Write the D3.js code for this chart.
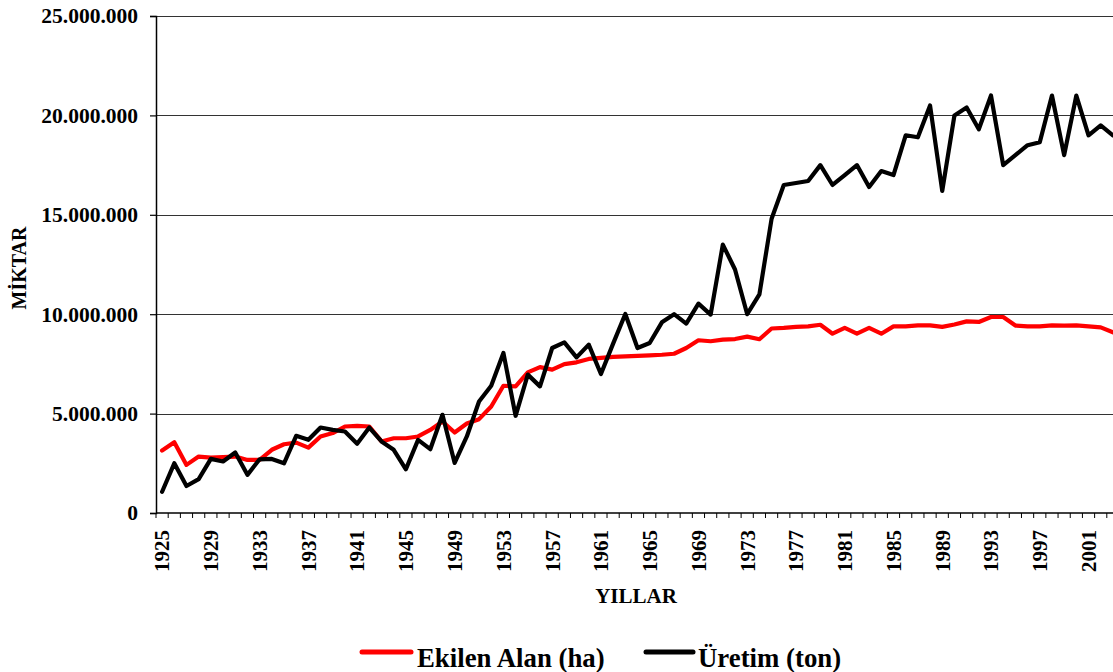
<!DOCTYPE html>
<html>
<head>
<meta charset="utf-8">
<script src="https://cdn.jsdelivr.net/npm/d3@7"></script>
<style>
  html, body { margin: 0; padding: 0; background: #fff; }
  svg { display: block; }
  text { font-family: "Liberation Serif", "Times New Roman", serif; font-weight: bold; fill: #000; }
</style>
</head>
<body>
<svg id="chart" width="1113" height="672"></svg>
<script>
const years = d3.range(1925, 2004);
const ekilenAlan = [
  3140000, 3560000, 2420000, 2840000, 2790000, 2810000, 2840000, 2670000, 2670000, 3180000,
  3460000, 3540000, 3290000, 3850000, 4020000, 4350000, 4380000, 4350000, 3600000, 3760000,
  3760000, 3850000, 4180000, 4600000, 4050000, 4500000, 4720000, 5360000, 6400000, 6370000,
  7070000, 7340000, 7210000, 7490000, 7580000, 7750000, 7800000, 7850000, 7880000, 7900000,
  7930000, 7960000, 8010000, 8300000, 8690000, 8640000, 8720000, 8750000, 8870000, 8740000,
  9280000, 9310000, 9360000, 9390000, 9470000, 9020000, 9310000, 9020000, 9310000, 9020000,
  9390000, 9390000, 9440000, 9440000, 9360000, 9480000, 9640000, 9610000, 9860000, 9860000,
  9430000, 9390000, 9390000, 9440000, 9430000, 9440000, 9390000, 9340000, 9090000
];
const uretim = [
  1070000, 2500000, 1360000, 1700000, 2720000, 2590000, 3040000, 1920000, 2700000, 2720000,
  2500000, 3880000, 3680000, 4300000, 4180000, 4100000, 3480000, 4300000, 3600000, 3180000,
  2200000, 3680000, 3210000, 4940000, 2520000, 3850000, 5610000, 6400000, 8050000, 4890000,
  6960000, 6370000, 8300000, 8580000, 7830000, 8470000, 6990000, 8520000, 10010000, 8300000,
  8550000, 9590000, 10000000, 9530000, 10530000, 9980000, 13500000, 12250000, 10000000, 11000000,
  14800000, 16500000, 16600000, 16700000, 17500000, 16500000, 17000000, 17500000, 16400000, 17200000,
  17000000, 19000000, 18900000, 20500000, 16200000, 20000000, 20400000, 19300000, 21000000, 17500000,
  18000000, 18500000, 18650000, 21000000, 18000000, 21000000, 19000000, 19500000, 19000000
];
const yTicks = [0, 5000000, 10000000, 15000000, 20000000, 25000000];
const yearLabels = years.filter((yr, i) => i % 4 === 0);
const seriesNames = ["Ekilen Alan (ha)", "Üretim (ton)"];
const seriesColors = ["#ff0000", "#000000"];

const svg = d3.select("#chart");
const pLeft = 156, pRight = 1119, pTop = 16, pBottom = 513;

const x = d3.scaleBand().domain(years).range([pLeft, pRight]).padding(0);
const cx = d => x(d) + x.bandwidth() / 2;
const y = d3.scaleLinear().domain([0, 25000000]).range([pBottom, pTop]);

const loc = d3.formatLocale({decimal: ",", thousands: ".", grouping: [3], currency: ["", ""]});
const fmt = loc.format(",d");

// gridlines
svg.append("g").selectAll("line").data(yTicks.filter(t => t > 0)).join("line")
  .attr("x1", pLeft).attr("x2", 1113)
  .attr("y1", d => Math.round(y(d)) + 0.5).attr("y2", d => Math.round(y(d)) + 0.5)
  .attr("stroke", "#333").attr("stroke-width", 1.2);

// y axis
const yAxis = svg.append("g").attr("transform", `translate(${pLeft},0)`)
  .call(d3.axisLeft(y).tickValues(yTicks).tickFormat(fmt).tickSize(6).tickPadding(12));
yAxis.attr("font-family", null);
yAxis.select(".domain").attr("stroke", "#000").attr("stroke-width", 1.5);
yAxis.selectAll(".tick line").attr("stroke", "#000").attr("stroke-width", 1.2);
yAxis.selectAll("text").style("font-size", "21.5px").style("font-family", '"Liberation Serif", serif').style("font-weight", "bold");

// x axis line + ticks between categories
svg.append("line").attr("x1", pLeft).attr("x2", 1113).attr("y1", pBottom).attr("y2", pBottom)
  .attr("stroke", "#000").attr("stroke-width", 1.5);
svg.append("g").selectAll("line").data(years).join("line")
  .attr("x1", d => x(d)).attr("x2", d => x(d))
  .attr("y1", pBottom).attr("y2", pBottom + 5)
  .attr("stroke", "#000").attr("stroke-width", 1);

svg.append("g").selectAll("text").data(yearLabels).join("text")
  .attr("transform", d => `translate(${cx(d)},530) rotate(-90)`)
  .attr("text-anchor", "end").attr("dy", "0.35em")
  .style("font-size", "21px")
  .text(d => d);

// axis titles
svg.append("text").attr("x", 636).attr("y", 603).attr("text-anchor", "middle")
  .style("font-size", "21px").text("YILLAR");
svg.append("text").attr("transform", "translate(26,268) rotate(-90)")
  .attr("text-anchor", "middle").style("font-size", "20px").text("MİKTAR");

// lines
const line = d3.line().x((d, i) => cx(years[i])).y(d => y(d));
[ekilenAlan, uretim].forEach((s, k) => {
  svg.append("path").datum(s).attr("d", line)
    .attr("fill", "none").attr("stroke", seriesColors[k])
    .attr("stroke-width", 4.2).attr("stroke-linejoin", "round").attr("stroke-linecap", "round");
});

// legend
const legendItems = [
  {x1: 362, x2: 411, tx: 417},
  {x1: 646, x2: 693, tx: 698}
];
legendItems.forEach((l, k) => {
  svg.append("line").attr("x1", l.x1).attr("x2", l.x2).attr("y1", 652).attr("y2", 652)
    .attr("stroke", seriesColors[k]).attr("stroke-width", 5).attr("stroke-linecap", "round");
  svg.append("text").attr("x", l.tx).attr("y", 667).style("font-size", "26.8px").text(seriesNames[k]);
});
</script>
</body>
</html>
